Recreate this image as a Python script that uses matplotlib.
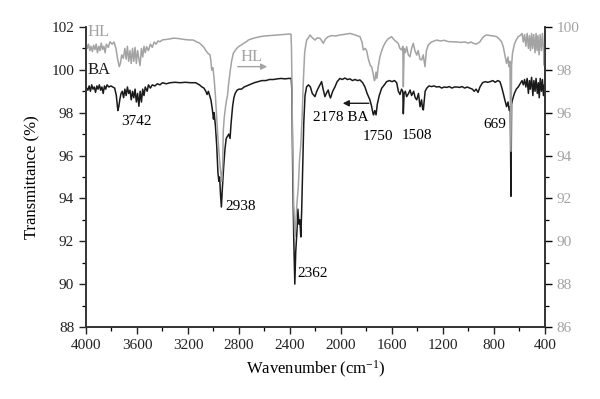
import matplotlib
matplotlib.use("Agg")
import matplotlib.pyplot as plt
from matplotlib.ticker import MultipleLocator

plt.rcParams['font.family'] = ['Liberation Serif', 'DejaVu Serif']
plt.rcParams['mathtext.fontset'] = 'custom'
plt.rcParams['mathtext.rm'] = 'Liberation Serif'
plt.rcParams['mathtext.it'] = 'Liberation Serif:italic'

# BA spectrum (left axis): wavenumber, transmittance
ba_wn = [4000, 3985, 3975, 3965, 3955, 3945, 3935, 3925, 3915, 3905, 3895, 3885, 3875, 3865, 3855,
         3845, 3835, 3820, 3805, 3790, 3775, 3762, 3750, 3742, 3735, 3725, 3715, 3705, 3695, 3685,
         3675, 3665, 3655, 3645, 3635, 3625, 3615, 3605, 3595, 3585, 3575, 3565, 3555, 3545, 3535,
         3520, 3510, 3495, 3480, 3460, 3440, 3420, 3400, 3370, 3340, 3300, 3260, 3220, 3180, 3140,
         3110, 3090, 3075, 3060, 3050, 3040, 3030, 3020, 3010, 3000, 2995, 2985, 2975, 2965, 2958,
         2952, 2945, 2938, 2930, 2920, 2910, 2900, 2890, 2880, 2870, 2862, 2850, 2840, 2830, 2815,
         2800, 2780, 2760, 2740, 2720, 2700, 2680, 2650, 2620, 2590, 2560, 2530, 2500, 2470, 2440,
         2410, 2390, 2385, 2378, 2370, 2362, 2355, 2345, 2338, 2330, 2322, 2315, 2308, 2300, 2292,
         2282, 2270, 2255, 2240, 2225, 2204, 2190, 2178, 2165, 2152, 2140, 2126, 2115, 2100, 2090,
         2082, 2065, 2047, 2030, 2008, 1990, 1970, 1950, 1929, 1910, 1890, 1870, 1851, 1830, 1812,
         1795, 1773, 1760, 1750, 1745, 1735, 1725, 1715, 1700, 1681, 1660, 1642, 1620, 1600, 1580,
         1563, 1550, 1537, 1525, 1515, 1511, 1505, 1495, 1485, 1470, 1458, 1446, 1430, 1418, 1406,
         1392, 1380, 1368, 1360, 1354, 1340, 1328, 1310, 1290, 1270, 1250, 1230, 1210, 1190, 1170,
         1150, 1130, 1110, 1090, 1070, 1050, 1030, 1010, 990, 970, 955, 940, 925, 910, 890,
         870, 850, 830, 810, 790, 770, 753, 740, 727, 715, 701, 690, 680, 672, 667,
         662, 655, 640, 625, 610, 595, 580, 570, 560, 550, 540, 530, 522, 515, 505,
         495, 487, 478, 470, 460, 452, 445, 437, 428, 420, 412, 405, 400]
ba_t = [99.2, 99.05, 99.25, 99.0, 99.3, 99.1, 99.2, 98.95, 99.25, 99.1, 99.3, 99.05, 99.2, 98.9, 99.25,
        99.1, 99.3, 99.2, 99.25, 99.2, 99.15, 98.8, 98.1, 98.3, 98.6, 98.9, 99.0, 98.7, 99.1, 98.8,
        99.2, 98.9, 99.05, 98.6, 99.0, 98.7, 99.1, 98.5, 98.9, 98.3, 99.0, 98.5, 99.1, 98.8, 99.2,
        99.0, 99.3, 99.15, 99.3, 99.25, 99.35, 99.3, 99.4, 99.35, 99.4, 99.42, 99.4, 99.42, 99.4, 99.4,
        99.3, 99.2, 99.15, 99.0, 98.85, 99.0, 98.8, 98.6, 98.2, 97.7, 98.0, 97.4, 96.5, 95.2, 94.8,
        95.0, 94.2, 93.6, 94.5, 95.5, 96.3, 96.8, 96.9, 97.0, 96.8, 97.5, 98.3, 98.7, 98.9, 99.05,
        99.1, 99.1, 99.2, 99.25, 99.3, 99.35, 99.4, 99.45, 99.5, 99.5, 99.55, 99.55, 99.58, 99.6, 99.58,
        99.6, 99.6, 99.0, 95.0, 92.0, 90.0, 91.5, 92.5, 93.5, 92.8, 93.0, 92.2, 93.5, 95.5, 97.5,
        98.8, 99.2, 99.3, 99.2, 98.9, 98.75, 99.0, 99.15, 99.3, 99.45, 99.1, 98.75, 98.9, 99.06, 98.8,
        98.69, 99.0, 99.21, 99.45, 99.6, 99.55, 99.62, 99.55, 99.58, 99.5, 99.55, 99.5, 99.53, 99.4, 99.2,
        98.9, 98.6, 98.3, 98.0, 97.9, 98.1, 97.9, 98.4, 98.8, 99.14, 99.3, 99.45, 99.5, 99.45, 99.5,
        99.4, 99.0, 98.85, 99.1, 99.0, 97.95, 98.9, 99.0, 98.75, 98.9, 99.06, 98.8, 99.0, 98.7, 98.6,
        98.9, 98.28, 98.6, 98.2, 98.13, 99.0, 99.14, 99.25, 99.22, 99.25, 99.2, 99.22, 99.15, 99.2, 99.18,
        99.22, 99.15, 99.2, 99.2, 99.18, 99.22, 99.15, 99.2, 99.15, 99.1, 99.0, 99.1, 98.95, 99.2, 99.4,
        99.45, 99.42, 99.45, 99.5, 99.42, 99.5, 99.45, 99.2, 98.9, 98.6, 98.28, 98.5, 98.1, 98.3, 94.1,
        98.4, 98.6, 98.9, 99.1, 99.2, 99.35, 99.5, 99.3, 99.55, 99.2, 99.6, 98.9, 99.5, 99.1, 99.65,
        98.8, 99.5, 99.0, 99.6, 98.9, 99.4, 98.7, 99.6, 99.0, 99.55, 98.8, 99.3, 99.0]

# HL spectrum (right axis): wavenumber, transmittance
hl_wn = [4000, 3990, 3980, 3970, 3960, 3950, 3940, 3930, 3920, 3910, 3900, 3890, 3880, 3870, 3860,
         3850, 3840, 3825, 3812, 3795, 3780, 3765, 3752, 3739, 3730, 3720, 3707, 3695, 3685, 3675,
         3665, 3655, 3645, 3635, 3625, 3615, 3605, 3595, 3585, 3576, 3565, 3555, 3545, 3535, 3524,
         3510, 3495, 3480, 3465, 3450, 3435, 3420, 3400, 3370, 3340, 3310, 3289, 3260, 3230, 3200,
         3158, 3130, 3110, 3093, 3075, 3060, 3053, 3040, 3027, 3020, 3014, 3005, 2995, 2985, 2975,
         2965, 2955, 2945, 2935, 2928, 2923, 2915, 2905, 2897, 2890, 2884, 2870, 2858, 2845, 2830,
         2818, 2800, 2785, 2766, 2745, 2727, 2700, 2670, 2635, 2600, 2560, 2530, 2505, 2470, 2440,
         2410, 2392, 2388, 2380, 2372, 2362, 2355, 2345, 2335, 2325, 2315, 2305, 2295, 2285, 2275,
         2269, 2255, 2243, 2225, 2204, 2185, 2165, 2150, 2139, 2120, 2100, 2070, 2040, 2008, 1980,
         1950, 1929, 1900, 1875, 1851, 1835, 1825, 1810, 1799, 1785, 1770, 1760, 1747, 1738, 1734,
         1725, 1718, 1708, 1695, 1680, 1669, 1650, 1630, 1615, 1603, 1590, 1575, 1563, 1551, 1538,
         1525, 1515, 1511, 1505, 1495, 1485, 1472, 1459, 1446, 1433, 1420, 1406, 1395, 1380, 1367,
         1355, 1341, 1330, 1315, 1290, 1250, 1220, 1190, 1160, 1119, 1090, 1060, 1030, 1000, 980,
         962, 940, 925, 910, 890, 870, 858, 830, 800, 780, 760, 740, 727, 715, 701,
         690, 683, 675, 667, 662, 655, 640, 625, 610, 595, 580, 570, 560, 550, 540,
         530, 522, 514, 505, 497, 488, 478, 470, 462, 455, 446, 438, 428, 420, 412,
         405, 400]
hl_t = [99.3, 99.0, 99.2, 98.9, 99.1, 98.85, 99.15, 98.95, 99.2, 98.8, 99.1, 98.9, 99.25, 98.95, 99.1,
        98.8, 99.2, 99.05, 99.31, 99.2, 99.3, 99.0, 98.5, 98.15, 98.3, 98.7, 98.54, 99.0, 98.5, 99.1,
        98.4, 98.9, 98.3, 99.0, 98.4, 99.05, 98.3, 98.9, 98.5, 98.2, 99.0, 98.6, 99.1, 98.8, 99.08,
        98.9, 99.2, 99.05, 99.3, 99.2, 99.35, 99.31, 99.4, 99.42, 99.45, 99.48, 99.47, 99.45, 99.42, 99.4,
        99.39, 99.3, 99.25, 99.16, 99.05, 98.9, 98.85, 98.75, 98.7, 98.4, 97.99, 98.1, 97.6, 96.8, 95.8,
        94.8, 94.0, 93.3, 92.8, 93.5, 95.19, 95.8, 96.3, 96.6, 96.8, 97.21, 97.9, 98.4, 98.77, 98.9,
        99.0, 99.1, 99.15, 99.23, 99.3, 99.39, 99.45, 99.5, 99.55, 99.58, 99.6, 99.62, 99.63, 99.65, 99.66,
        99.67, 99.67, 99.0, 95.0, 92.0, 90.2, 90.8, 91.8, 92.5, 93.8, 94.5, 95.8, 97.5, 98.8, 99.2,
        99.39, 99.5, 99.63, 99.5, 99.39, 99.5, 99.47, 99.35, 99.24, 99.45, 99.55, 99.6, 99.58, 99.63, 99.65,
        99.68, 99.7, 99.65, 99.6, 99.55, 99.3, 98.93, 99.0, 98.9, 98.5, 98.2, 98.15, 97.8, 97.5, 97.53,
        97.9, 97.6, 98.15, 98.6, 98.9, 99.08, 99.3, 99.45, 99.5, 99.55, 99.45, 99.35, 99.3, 99.24, 99.0,
        98.93, 99.1, 97.21, 99.0, 98.8, 99.08, 98.7, 98.61, 99.0, 99.24, 98.9, 98.69, 98.9, 98.5, 98.46,
        98.7, 98.15, 98.9, 99.16, 99.3, 99.39, 99.35, 99.38, 99.32, 99.31, 99.3, 99.28, 99.3, 99.25, 99.3,
        99.24, 99.2, 99.25, 99.31, 99.5, 99.6, 99.63, 99.6, 99.58, 99.55, 99.45, 99.3, 99.08, 98.7, 98.3,
        98.6, 98.15, 98.4, 94.2, 98.2, 98.77, 99.2, 99.4, 99.55, 99.6, 99.7, 99.3, 99.65, 99.1, 99.7,
        99.0, 99.6, 98.9, 99.7, 99.0, 99.65, 98.8, 99.7, 98.9, 99.6, 98.7, 99.65, 98.9, 99.7, 99.0,
        98.2, 99.3]

ticks_x = [4000, 3600, 3200, 2800, 2400, 2000, 1600, 1200, 800, 400]

GRAY = '#a3a3a3'
BLACK = '#1a1a1a'

fig = plt.figure(figsize=(6.0, 3.99), dpi=100)
ax = fig.add_axes([0.1433, 0.1805, 0.765, 0.7518])
ax2 = ax.twinx()

ax.plot(ba_wn, ba_t, color=BLACK, lw=1.1)
ax2.plot(hl_wn, hl_t, color=GRAY, lw=1.1)

ax.set_xlim(4000, 400)
ax.set_ylim(88, 102)
ax2.set_ylim(86, 100)

ax.set_xticks(ticks_x)
ax.xaxis.set_minor_locator(MultipleLocator(200))
ax.yaxis.set_major_locator(MultipleLocator(2))
ax.yaxis.set_minor_locator(MultipleLocator(1))
ax2.yaxis.set_major_locator(MultipleLocator(2))
ax2.yaxis.set_minor_locator(MultipleLocator(1))

for a in (ax, ax2):
    a.spines['top'].set_visible(False)
    for s in a.spines.values():
        s.set_linewidth(1.2)
        s.set_color('#333333')
ax.tick_params(axis='both', which='major', direction='out', length=5, width=1.0, labelsize=11, colors='#222222')
ax.tick_params(axis='both', which='minor', direction='out', length=3, width=0.9)
ax2.tick_params(axis='y', which='major', direction='out', length=5, width=1.0, labelsize=11, labelcolor=GRAY)
ax2.tick_params(axis='y', which='minor', direction='out', length=3, width=0.9)

ax.set_xlabel('Wavenumber (cm$^{-1}$)', fontsize=12, labelpad=5)
ax.set_ylabel('Transmittance (%)', fontsize=12, labelpad=8)

fs = 11
ax.text(3985, 101.75, 'HL', color=GRAY, fontsize=12, va='center', ha='left')
ax.text(3985, 100.0, 'BA', color=BLACK, fontsize=12, va='center', ha='left')
ax.text(3720, 97.6, '3742', fontsize=fs, va='center', ha='left')
ax.text(2910, 93.6, '2938', fontsize=fs, va='center', ha='left')
ax.text(2343, 90.5, '2362', fontsize=fs, va='center', ha='left')
ax.text(2790, 100.58, 'HL', color=GRAY, fontsize=12, va='center', ha='left')
ax.annotate('', xy=(2557, 100.15), xytext=(2832, 100.15),
            arrowprops=dict(arrowstyle='-|>', color=GRAY, lw=1.0, mutation_scale=9))
ax.text(2217, 97.8, '2178 BA', fontsize=fs, va='center', ha='left')
ax.annotate('', xy=(2008, 98.44), xytext=(1760, 98.44),
            arrowprops=dict(arrowstyle='-|>', color=BLACK, lw=1.0, mutation_scale=9))
ax.text(1828, 96.88, '1750', fontsize=fs, va='center', ha='left')
ax.text(1525, 96.96, '1508', fontsize=fs, va='center', ha='left')
ax.text(700, 97.47, '669', fontsize=fs, va='center', ha='right')

fig.savefig('out.png', dpi=100)
